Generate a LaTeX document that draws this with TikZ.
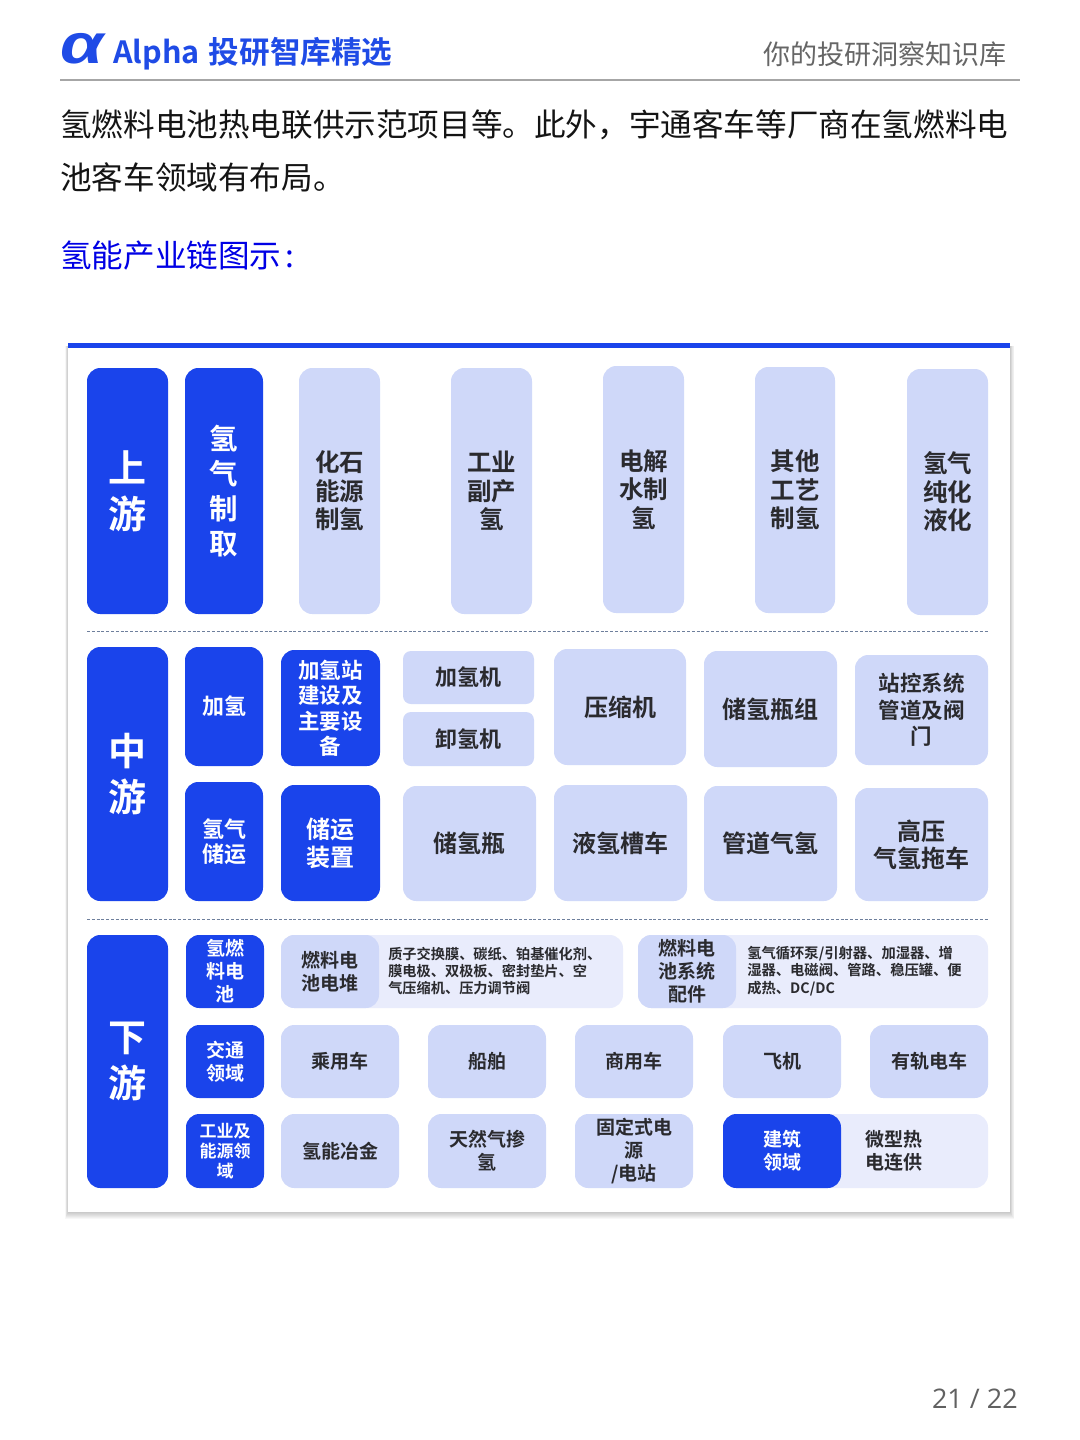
\documentclass[tikz,border=0pt]{standalone}
\usepackage{graphicx}
\usepackage{fontspec}
\setmainfont{Noto Sans CJK SC}[BoldFont={Noto Sans CJK SC Bold}]
\newfontfamily\latinfont{Open Sans}
\newfontfamily\alphafont{Liberation Sans}[BoldItalicFont={Liberation Sans Bold Italic}]
\definecolor{mainblue}{HTML}{1A44EB}
\definecolor{lightblue}{HTML}{CFD8F9}
\definecolor{paleblue}{HTML}{E9ECFC}
\definecolor{inkdark}{HTML}{2A2A2E}
\definecolor{headblue}{HTML}{1F4BE6}
\definecolor{sepcolor}{HTML}{6E7F9C}
\newcommand{\fz}[2]{\fontsize{\fpeval{#1*.75}}{\fpeval{#2*.75}}\selectfont}
\newcommand{\bx}[7][]{\node[#1,minimum width={(#4-#2)*0.75pt},minimum height={(#5-#3)*0.75pt}] (#6) at ({(#2+#4)/2},{(#3+#5)/2}) {#7};}
\tikzset{
  x=0.75pt,y=-0.75pt,
  dark/.style={fill=mainblue,text=white,rounded corners=10pt,inner sep=0pt,align=center},
  light/.style={fill=lightblue,text=inkdark,rounded corners=10pt,inner sep=0pt,align=center},
  pale/.style={fill=paleblue,rounded corners=10pt,inner sep=0pt},
  desc/.style={anchor=west,inner sep=0pt,align=left,text=inkdark},
  fs/.style 2 args={font=\bfseries\fz{#1}{#2}},
  plain/.style={inner sep=0pt},
  sep/.style={draw=sepcolor,line width=0.6pt,dash pattern=on 2.2pt off 1.4pt},
}
\begin{document}
\begin{tikzpicture}
\useasboundingbox (0,0) rectangle (1080,1440);
\fill[white] (0,0) rectangle (1080,1440);
% header
\node[plain,anchor=west,text=headblue] (logo) at (60,49) {\alphafont\bfseries\itshape\fz{56}{56}\scalebox{1.25}[1]{α}};
\node[plain,anchor=west,text=headblue] (brand) at (113,53.5) {\fz{30.6}{30.6}\bfseries Alpha\hspace{1.5pt} 投研智库精选};
\node[plain,anchor=east,text=black!60] (slogan) at (1007,54) {\fz{27}{27}你的投研洞察知识库};
\coordinate (ruleL) at (60,80);
\coordinate (ruleR) at (1020,80);
\draw[black!35,line width=0.9pt] (ruleL) -- (ruleR);
% body
\node[plain,anchor=west,text=black!92] (line1) at (60,124.5) {\fz{31.6}{31.6}氢燃料电池热电联供示范项目等。此外，宇通客车等厂商在氢燃料电};
\node[plain,anchor=west,text=black!92] (line2) at (60,177) {\fz{31.6}{31.6}池客车领域有布局。};
\node[plain,anchor=west,text=blue!90!black] (title) at (60,256) {\fz{31.6}{31.6}氢能产业链图示\hspace{3pt}:};
% card shadow
\foreach \i in {1,...,7}{\fill[black,opacity=0.03] ({68-\i*0.4},{346}) rectangle ({1010+\i*0.6},{1212+\i});}
\fill[white] (68,343) rectangle (1010,1212);
\fill[mainblue] (68,343) rectangle (1010,348);
% separators
\coordinate (s1L) at (87,631); \coordinate (s1R) at (988,631);
\coordinate (s2L) at (87,919); \coordinate (s2R) at (988,919);
\draw[sep] (s1L) -- (s1R);
\draw[sep] (s2L) -- (s2R);
% upstream
\bx[dark,fs={38}{46}]{87}{368}{168}{614}{up}{上\\游}
\bx[dark,fs={28.5}{35}]{185}{368}{263}{614}{h2make}{氢\\气\\制\\取}
\bx[light,fs={24.5}{28.5}]{299}{368}{380}{614}{fossil}{化石\\能源\\制氢}
\bx[light,fs={24.5}{28.5}]{451}{368}{532}{614}{byprod}{工业\\副产\\氢}
\bx[light,fs={24.5}{28.5}]{603}{366}{684}{613}{electro}{电解\\水制\\氢}
\bx[light,fs={24.5}{28.5}]{755}{367}{835}{613}{other}{其他\\工艺\\制氢}
\bx[light,fs={24.5}{28.5}]{907}{369}{988}{615}{purify}{氢气\\纯化\\液化}
% midstream
\bx[dark,fs={38}{46}]{87}{647}{168}{901}{mid}{中\\游}
\bx[dark,fs={22}{25}]{185}{647}{263}{766}{fill}{加氢}
\bx[dark,fs={21.5}{25.5}]{281}{650}{380}{766}{station}{加氢站\\建设及\\主要设\\备}
\bx[light,rounded corners=6pt,fs={22}{25}]{403}{651}{534}{704}{disp}{加氢机}
\bx[light,rounded corners=6pt,fs={22}{25}]{403}{712}{534}{766}{unload}{卸氢机}
\bx[light,fs={24}{25}]{554}{649}{686}{765}{comp}{压缩机}
\bx[light,fs={24}{25}]{704}{651}{837}{767}{bottles}{储氢瓶组}
\bx[light,fs={21.5}{26.5}]{855}{655}{988}{765}{ctrl}{站控系统\\管道及阀\\门}
\bx[dark,fs={22}{25}]{185}{782}{263}{901}{store}{氢气\\储运}
\bx[dark,fs={24}{28}]{281}{785}{380}{901}{device}{储运\\装置}
\bx[light,fs={24}{25}]{403}{786}{536}{901}{bottle}{储氢瓶}
\bx[light,fs={24}{25}]{554}{785}{687}{901}{tanker}{液氢槽车}
\bx[light,fs={24}{25}]{704}{786}{837}{901}{pipe}{管道气氢}
\bx[light,fs={24}{27}]{855}{788}{988}{901}{trailer}{高压\\气氢拖车}
% downstream
\bx[dark,fs={38}{46}]{87}{935}{168}{1188}{down}{下\\游}
\bx[dark,fs={19}{23}]{186}{935}{264}{1008}{fcell}{氢燃\\料电\\池}
\bx[pale]{281}{935}{623}{1008}{stackbg}{}
\bx[light,fs={19}{23}]{281}{935}{379}{1008}{stack}{燃料电\\池电堆}
\node[desc,fs={14.2}{17.3}] (stacktxt) at (388,971) {质子交换膜、碳纸、铂基催化剂、\\膜电极、双极板、密封垫片、空\\气压缩机、压力调节阀};
\bx[pale]{638}{935}{988}{1008}{sysbg}{}
\bx[light,fs={19}{23}]{638}{935}{736}{1008}{sys}{燃料电\\池系统\\配件}
\node[desc,fs={14.3}{17.3}] (systxt) at (747,971) {氢气循环泵/引射器、加湿器、增\\湿器、电磁阀、管路、稳压罐、便\\成热、DC/DC};
\bx[dark,fs={19}{23}]{186}{1025}{264}{1098}{traffic}{交通\\领域}
\bx[light,fs={19}{23}]{281}{1025}{399}{1098}{car}{乘用车}
\bx[light,fs={19}{23}]{428}{1025}{546}{1098}{ship}{船舶}
\bx[light,fs={19}{23}]{575}{1025}{693}{1098}{truck}{商用车}
\bx[light,fs={19}{23}]{723}{1025}{841}{1098}{plane}{飞机}
\bx[light,fs={19}{23}]{870}{1025}{988}{1098}{tram}{有轨电车}
\bx[dark,fs={17}{20}]{186}{1114}{264}{1188}{indus}{工业及\\能源领\\域}
\bx[light,fs={19}{23}]{281}{1114}{399}{1188}{metal}{氢能冶金}
\bx[light,fs={19}{23}]{428}{1114}{546}{1188}{gas}{天然气掺\\氢}
\bx[light,fs={19}{23}]{575}{1114}{693}{1188}{power}{固定式电\\源\\/电站}
\bx[pale]{723}{1114}{988}{1188}{buildbg}{}
\bx[dark,fs={19}{23}]{723}{1114}{841}{1188}{build}{建筑\\领域}
\node[desc,fs={19}{23}] (chp) at (865,1151) {微型热\\电连供};
% page number
\node[plain,anchor=east,text=black!62] (page) at (1018,1398.5) {\latinfont\fz{27}{27}21 / 22};
\end{tikzpicture}
\end{document}
